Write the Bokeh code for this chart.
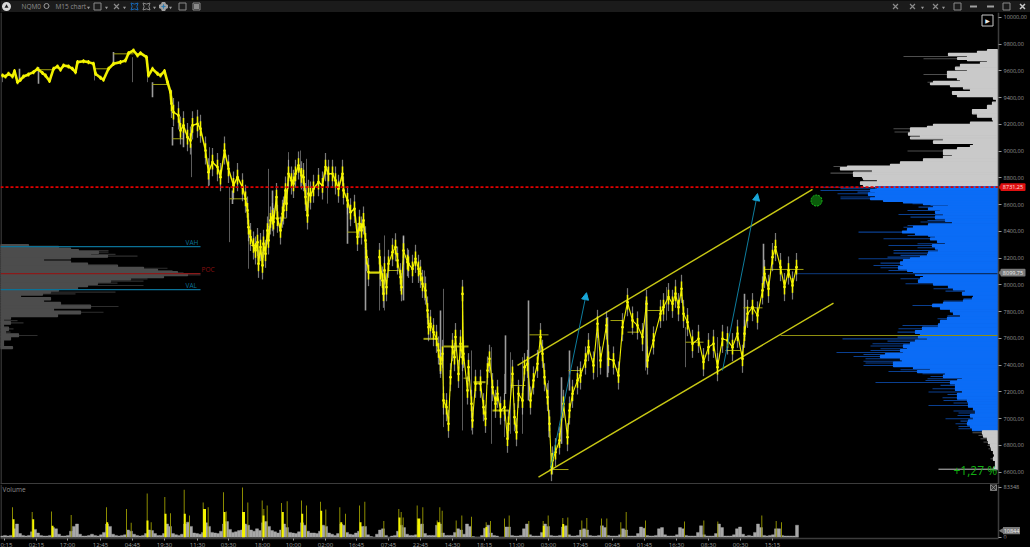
from bokeh.plotting import figure
from bokeh.layouts import column
from bokeh.models import (Range1d, FixedTicker, Arrow, NormalHead, LinearAxis)
from bokeh.core.properties import value
from bokeh.embed import file_html
from bokeh.resources import INLINE
import numpy as np

FONT = "Open Sans"
BG = "#000000"

# --- price path: (bar position, price)
price_x = [2,5,8,12,14,17,20,23,28,33,37,42,45,49,53,57,60,63,68,72,75,77,83,88,93,95,100,103,108,113,120,125,128,133,137,140,146,148,152,157,160,164,167,170,171,173,178,180,183,187,190,192,197,200,
205,208,212,217,220,224,228,233,237,242,245,247,248,250,253,255,257,258,260,262,263,265,267,268,270,272,273,276,277,280,282,283,285,286,288,291,293,295,298,301,303,305,307,308,310,313,318,322,325,328,332,335,338,342,343,347,350,354,357,359,361,363,365,366,368,380,
379,382,383,384,386,388,392,395,397,400,401,403,407,408,412,415,418,420,422,425,427,428,430,433,436,438,440,442,443,446,448,450,452,454,455,458,460,462,462,463,467,468,471,472,475,480,483,485,487,489,492,495,497,500,504,507,508,512,514,516,518,522,524,527,530,533,537,540,542,544,547,549,551,
552,555,559,563,567,569,572,577,580,585,588,593,597,600,606,608,613,618,622,627,632,637,642,646,647,653,660,663,668,672,675,678,681,683,687,692,698,703,708,713,717,722,727,732,737,742,744,747,752,757,762,764,768,772,775,780,784,788,792,796]
price_y = [9566,9559,9579,9559,9599,9516,9534,9559,9574,9591,9616,9584,9566,9524,9616,9634,9609,9641,9634,9616,9591,9666,9673,9666,9654,9579,9549,9534,9616,9654,9666,9678,9733,9753,9716,9733,9703,9566,9616,9579,9566,9599,9516,9442,9354,9292,9267,9155,9193,9105,9080,9193,9205,9168,
9005,8843,8918,8881,8806,9005,8868,8744,8806,8731,8644,8557,8432,8358,8295,8258,8320,8158,8283,8146,8308,8233,8407,8333,8482,8507,8470,8657,8495,8407,8532,8557,8706,8607,8831,8781,8756,8831,8893,8819,8806,8657,8520,8682,8669,8719,8769,8744,8881,8831,8831,8781,8719,8831,8706,8632,8544,8569,8358,8457,8407,8482,8333,8208,8096,8096,
8208,8033,7934,8108,7983,8158,8245,8282,8183,8058,7983,8257,8170,8158,8120,8195,8120,8083,8008,7958,7809,7684,7709,7647,7597,7510,7410,7485,7136,7086,6962,7310,7535,7460,7610,7335,7560,7460,7933,7485,7211,7385,7111,6987,7261,7261,7086,6999,7360,7448,7236,7111,7186,7061,7086,6850,6962,7335,7011,6899,7186,7136,7385,7410,7136,7286,7410,7610,7485,7310,7161,6962,6638,
6688,6750,6837,7111,6862,7061,7186,7286,7323,7435,7535,7398,7709,7435,7697,7448,7435,7323,7684,7871,7734,7697,7610,7859,7435,7585,7784,7834,7909,7859,7934,7834,7971,7784,7722,7560,7597,7423,7535,7560,7385,7597,7585,7535,7635,7448,7635,7784,7834,7772,7959,8083,7971,8208,8283,8133,7984,8108,7996,8133]

# --- session high/low wicks
wick_light_x = [19,38,113,152,172,183,232,272,347,763,365,403,440,505,528,561,569,607,646,744]
wick_light_hi = [9616,9629,9741,9516,9180,9155,8706,8706,8606,8308,8282,8370,7809,7623,7884,7310,7510,7759,7884,7934]
wick_light_lo = [9529,9504,9641,9404,9043,9030,8606,8457,8308,8009,7809,7884,7335,7185,7136,6812,7210,7310,7385,7610]
wick_dim_x = [2,94,132,147,191,209,229,248,268,288,300,306,327,379,384,424,443,462,471,491,504,510,522,548,597,666,685,717,645]
wick_dim_hi = [9579,9616,9703,9616,9055,9030,8731,8432,8868,8993,9005,8943,8881,8233,8370,8108,7971,7983,7510,7535,7335,7497,7460,7286,7759,7984,7684,7610,7884]
wick_dim_lo = [9516,9529,9516,9516,8806,8744,8320,8121,8432,8719,8731,8657,8608,7809,7809,7884,6937,6912,6912,6812,6862,6887,6887,6862,7310,7734,7385,7360,7360]

# --- session POC levels
poc_start = [38,93,113,152,172,229,250,270,347,368,388,423,443,463,473,492,510,529,549,568,610,627,647,685,725,743,763]
poc_end = [53,107,133,167,183,245,255,286,357,380,398,437,468,468,485,508,525,548,568,582,622,638,662,703,740,762,803]
poc_price = [9609,9616,9728,9499,9093,8644,8295,8500,8395,8090,8108,7597,7540,7303,7273,7061,7248,7627,6620,7360,7734,7647,7809,7572,7510,7829,8116]
poc_thick = [1,1,1,1,1,1,1,1,1,2,1,2,2,1,2,2,1,1,1,1,1,1,1,1,1,1,1]

# --- channel, arrows
chan_x0 = [517, 538]
chan_y0 = [7398, 6563]
chan_x1 = [812, 833]
chan_y1 = [8714, 7864]
arrow_x0 = [550, 722]
arrow_y0 = [6628, 7360]
arrow_x1 = [586, 757]
arrow_y1 = [7942, 8683]

last_price = 8731.25
current_price = 8099.75
naked_poc = 7622
target_x, target_y = 816, 8631

# --- right volume profile: price, body length, dark spike length
vp_price = [9753,9741,9723,9708,9691,9683,9671,9658,9641,9616,9604,9591,9574,9559,9541,9529,9516,9504,9492,9474,9459,9434,9417,9399,9379,9354,9330,9292,9267,9242,9225,9210,9192,9180,9168,9143,9130,9110,9100,9085,9068,9050,9035,9018,9001,8981,8968,8956,8931,8911,8893,8886,8869,8851,8836,8819,8806,8794,8781,8761,8741,
8731,8719,8706,8694,8682,8657,8644,8632,8619,8607,8594,8582,8569,8557,8544,8527,8507,8482,8470,8445,8432,8412,8395,8382,8370,8358,8345,8328,8308,8295,8278,8258,8238,8221,8208,8196,8183,8163,8146,8128,8108,8096,8078,8063,8046,8029,8009,7989,7971,7954,7934,7914,7897,7879,7859,7847,7829,7809,7789,7769,7747,7722,7697,7672,7647,7627,7610,7597,7580,7560,7543,7523,
7510,7495,7480,7465,7448,7430,7416,7398,7381,7366,7353,7336,7316,7298,7286,7271,7249,7224,7199,7181,7156,7136,7117,7099,7074,7057,7042,7024,6999,6982,6962,6942,6925,
6895,6875,6850,6825,6800,6775,6750,6725,6700,6675,6650,6625]
vp_body = [10,20,49,30,40,30,10,17,37,42,30,50,50,50,40,37,64,67,47,34,27,45,40,4,1,5,10,25,20,5,4,27,64,70,87,87,89,77,87,54,64,24,27,40,54,54,45,54,74,97,107,150,157,125,144,144,135,134,120,137,134,
122,120,127,122,129,122,127,114,94,74,49,64,69,57,62,54,62,52,45,69,84,90,95,82,69,62,67,60,52,65,62,59,69,70,77,87,94,97,94,99,90,84,82,74,77,79,64,49,44,32,35,24,25,34,54,65,57,47,44,37,50,57,59,75,82,77,79,70,82,87,94,90,
97,94,112,117,97,95,104,104,84,67,80,52,54,35,40,47,42,42,35,40,40,30,29,29,24,22,22,27,24,29,30,27,25,
15,14,10,9,7,6,4,3,4,2,2,4]
vp_spike = [10,20,49,94,74,30,10,17,37,42,30,50,74,50,40,37,70,67,47,34,27,45,40,4,1,5,10,25,20,5,4,27,64,70,104,103,89,77,87,54,64,24,27,40,90,54,45,54,74,97,107,164,157,125,167,144,135,134,120,137,134,
177,157,177,140,160,157,157,114,94,85,67,79,69,90,62,99,87,70,77,90,94,90,139,82,90,62,114,60,80,109,80,104,104,97,110,139,94,117,124,117,109,84,82,74,97,79,92,49,64,52,35,24,34,54,65,85,57,47,44,50,60,57,95,99,100,77,100,155,110,125,127,117,
127,161,134,144,132,134,132,134,84,97,109,75,67,70,72,122,57,65,69,50,55,54,44,69,24,44,39,40,52,37,42,39,39,
25,19,17,14,10,9,4,3,7,2,2,59]

# --- left composite profile
lp_price = [8295,8282,8270,8257,8245,8228,8215,8200,8188,8170,8158,8138,8125,8108,8090,8075,8063,8046,8028,8013,7996,7978,7963,7946,7933,7916,7896,7879,7859,7839,7814,7796,7771,7754,7734,7717,7697,7672,7647,7622,7605,7572,7547,7530]
lp_body = [28,58,70,78,98,90,107,70,43,70,87,117,143,157,177,187,163,130,110,97,87,77,58,50,42,20,50,43,60,90,53,80,57,10,3,10,3,8,5,18,10,3,3,12]
lp_spike = [28,58,70,108,108,115,137,70,43,70,87,117,167,172,183,200,163,147,143,117,143,77,58,115,75,20,50,43,60,118,53,103,57,10,17,23,3,13,10,37,10,3,3,12]
vah, poc, val = 8287, 8085, 7965

# --- volume panel, in thousands of contracts
vol_grey_k = [2,3,2,3,14,22,6,3,2,3,9,13,7,3,2,2,3,16,14,5,2,2,3,10,18,22,5,2,2,3,5,3,2,4,8,22,18,5,3,2,3,4,12,10,5,3,2,3,6,12,11,6,3,3,6,22,18,6,4,3,5,22,25,18,7,6,5,8,24,18,8,7,6,10,22,26,13,8,9,11,12,22,20,12,10,14,11,24,26,18,11,9,7,12,22,16,8,7,6,9,24,20,10,7,7,6,10,20,18,7,5,3,6,22,20,8,5,4,7,10,18,18,4,1,0,5,12,14,3,0,2,3,10,20,16,5,3,3,4,20,22,6,3,3,3,20,22,7,3,3,3,8,14,12,5,22,18,1,0,0,3,15,20,7,3,2,0,0,17,17,3,2,2,3,14,22,4,2,2,2,8,22,18,3,2,2,3,17,19,4,2,2,3,12,14,12,3,2,2,3,19,16,3,2,2,2,4,14,12,2,2,2,6,17,15,3,2,2,3,14,16,4,2,2,2,4,16,14,3,2,2,2,8,19,4,2,2,2,6,22,16,2,2,2,4,14,17,5,2,3,2,8,22,16,3,2,3,4,14,14,3,2,2,2,2,20]
vol_dark_x = [12,31.7,51,70.7,106,126,130.7,146.7,150.7,164.3,170,183.7,189,202.7,207.7,223,225.7,242,247.3,261.7,263.3,266.7,281,286.7,301,306,320,325.3,339.3,345,359,364.3,383.3,398.3,400.7,402.7,416.7,422.3,436.7,439.3,441.7,455.7,461.3,471,485.7,490,504,508.7,528.3,542.7,547.7,562.3,567.3,581.3,586.3,601,606.3,620.3,625.7,645,684,703.3,717.3,761.3,775.7,781]
vol_dark_k = [50,42,43,37,50,47,24,73,25,67,40,79,36,58,50,75,43,83,58,61,47,53,57,60,61,53,59,46,50,39,53,59,27,47,42,33,53,50,28,50,44,28,36,34,25,27,31,36,27,27,36,32,33,28,32,31,31,25,42,28,26,28,26,36,27,25]
vol_bright_x = [13,32.7,52,106.7,147,165,184.3,204,224,243,263,282.3,301.7,320.7,340.7,360,399,418.3,438.3,486,543.3,562.7]
vol_bright_k = [30,30,19,25,28,39,39,47,42,42,36,42,39,44,25,25,33,31,25,17,19,22]
vol_bright_w = [2,2,2,2,2,2,2,3,2,3,2,2,2,2,2,2,2,3,3,2,2,2]
vol_last = 10844

# --- axis ticks
price_ticks = [6600,6800,7000,7200,7400,7600,7800,8000,8200,8400,8600,8800,9000,9200,9400,9600,9800,10000]
vol_ticks = [0, 83348]
time_ticks = [4,36,67,100,132,164,197,228,262,293,325,356,388,420,452,484,516,548,580,612,644,676,708,740,772]
time_labels = ["0:15","02:15","17:00","12:45","04:45","19:30","11:30","03:30","18:00","10:00","02:00","16:45","07:45","22:45","14:30","18:15","11:00","03:00","17:45","09:45","01:45","16:30","08:30","00:30","15:15"]

AX = "#9a9a9a"
EDGE = "#3c3c3c"
W = 1030
AXIS_X = 998

def style(p):
    p.background_fill_color = BG
    p.border_fill_color = BG
    p.grid.visible = False
    p.min_border_left = 0
    p.min_border_top = 0
    p.min_border_bottom = 0
    p.min_border_right = 0

def right_axis(ticks):
    a = LinearAxis(fixed_location=AXIS_X, ticker=FixedTicker(ticks=ticks))
    a.major_label_text_color = AX
    a.major_label_text_font = FONT
    a.major_label_text_font_size = "5.5px"
    a.major_tick_in = 0
    a.major_tick_out = 3
    a.major_tick_line_color = AX
    a.minor_tick_line_color = None
    a.axis_line_color = EDGE
    a.axis_line_width = 1.5
    a.major_label_standoff = 2
    return a

# ---------- toolbar strip
tb = figure(width=W, height=12, x_range=Range1d(0, W), y_range=Range1d(0, 12),
            toolbar_location=None, output_backend="svg", x_axis_type=None, y_axis_type=None,
            outline_line_color=None)
style(tb)
tb.background_fill_color = "#1b1b1b"
tb.border_fill_color = "#1b1b1b"
tb.text([21, 55], [6, 6], text=["NQM0", "M15 chart"], text_font=value(FONT), text_font_size="6.5px",
        text_color="#8e8e8e", text_baseline="middle")
tb.scatter([6], [6], size=9, marker="circle", fill_color="#d8d8d8", line_color=None)
tb.scatter([6], [6], size=4, marker="triangle", fill_color="#1b1b1b", line_color=None)
tb.scatter([46], [6.5], size=5, marker="circle", fill_color=None, line_color="#9a9a9a", line_width=1)
tb.scatter([97, 182, 196], [6, 6, 6], size=7, marker="square", fill_color=None, line_color="#8a8a8a", line_width=1)
tb.scatter([196], [6], size=5, marker="square", fill_color="#8a8a8a", line_color=None)
tb.scatter([163, 973, 990], [6, 6, 6], size=7, marker="dash", line_color="#a0a0a0", line_width=2)
tb.scatter([163], [6], size=7, marker="plus", line_color="#a0a0a0", line_width=2)
tb.scatter([116, 895, 912, 935], [6, 6, 6, 6], size=7, marker="x", line_color="#8a8a8a", line_width=1.2)
tb.scatter([134], [6], size=7, marker="square_pin", fill_color=None, line_color="#1668b8", line_width=1)
tb.scatter([146], [6], size=7, marker="square_pin", fill_color=None, line_color="#8a8a8a", line_width=1)
tb.scatter([957, 1006], [6, 6], size=7, marker="square", fill_color=None, line_color="#8a8a8a", line_width=1)
tb.scatter([1022], [6], size=7, marker="x", line_color="#c8c8c8", line_width=1.5)
tb.scatter([88, 106, 124, 154, 170, 922, 943], [5] * 7, size=3, marker="inverted_triangle",
           fill_color="#9a9a9a", line_color=None)

# ---------- price panel: the frame fills the width, the price axis sits at its fixed place
YMIN, YMAX = 6508, 10037
p = figure(width=W, height=472, x_range=Range1d(0, W), y_range=Range1d(YMIN, YMAX),
           toolbar_location=None, output_backend="svg", x_axis_type=None, y_axis_type=None,
           outline_line_color=None)
style(p)
ax = right_axis(price_ticks)
ax.major_label_overrides = {t: f"{t},00" for t in price_ticks}
p.add_layout(ax, "right")
p.segment([0.5, 0], [YMIN, YMIN], [0.5, AXIS_X], [YMAX, YMIN], line_color=EDGE, line_width=[1.5, 3])

# left composite profile
lp_a = np.array(lp_price, dtype=float)
lmid = (lp_a[:-1] + lp_a[1:]) / 2
lp_top = np.concatenate([[lp_a[0] + 6], lmid])
lp_bot = np.concatenate([lmid, [lp_a[-1] - 6]])
p.hbar(y=lp_a, left=0, right=lp_spike, height=9, fill_color="#2e2e2e", line_color=None)
p.quad(left=0, right=lp_body, bottom=lp_bot, top=lp_top, fill_color="#4c4c4c", line_color="#4c4c4c", line_width=1.2)
p.segment([0, 0, 0], [vah, poc, val], [200, 200, 200], [vah, poc, val],
          line_color=["#0b7196", "#8a1a1a", "#0b7196"], line_width=1.2)
p.text([185, 201, 185], [vah + 27, poc + 27, val + 34], text=["VAH", "POC", "VAL"], text_font=value(FONT),
       text_font_size="6.5px", text_color=["#0b7196", "#8a1010", "#0b7196"], text_baseline="middle")

# right profile
vp_price_a = np.array(vp_price, dtype=float)
mids = (vp_price_a[:-1] + vp_price_a[1:]) / 2
top = np.concatenate([[vp_price_a[0] + 6], mids])
bot = np.concatenate([mids, [vp_price_a[-1] - 6]])
in_va = (vp_price_a <= last_price) & (vp_price_a > 6905)
RX = 997
rb = RX - np.array(vp_body, dtype=float)
rs = RX - np.array(vp_spike, dtype=float)
dark = np.where(in_va, "#0a3f90", "#4e4e4e")
fill = np.where(in_va, "#0b6cf6", "#c9c9c9")
p.hbar(y=vp_price_a, left=rs, right=RX, height=8, fill_color=dark.tolist(), line_color=None)
p.quad(left=rb, right=RX, bottom=bot, top=top, fill_color=fill.tolist(), line_color=fill.tolist(), line_width=1.2)
p.segment([938], [6620], [997], [6620], line_color="#8a8a8a", line_width=1.2)
p.segment([797], [current_price - 15], [997], [current_price - 15], line_color="#0a2f66", line_width=1.2)
p.segment([780], [naked_poc], [997], [naked_poc], line_color="#8f8f10", line_width=1)

# wicks
p.segment(wick_dim_x, wick_dim_lo, wick_dim_x, wick_dim_hi, line_color="#5c5c5c", line_width=1)
p.segment(wick_light_x, wick_light_lo, wick_light_x, wick_light_hi, line_color="#9c9c9c", line_width=1.6)

# session POC
p.segment(poc_start, poc_price, poc_end, poc_price, line_color="#a3a310", line_width=poc_thick)

# channel and projection arrows
p.segment(chan_x0, chan_y0, chan_x1, chan_y1, line_color="#c8c814", line_width=1.4)
for i in range(2):
    p.add_layout(Arrow(end=NormalHead(size=7, fill_color="#18a6d8", line_color="#18a6d8"),
                       x_start=arrow_x0[i], y_start=arrow_y0[i], x_end=arrow_x1[i], y_end=arrow_y1[i],
                       line_color="#0e7d9e", line_width=1))

# price: path with each bar's high-low range
px = np.array(price_x, dtype=float)
py = np.array(price_y, dtype=float)
lw = np.where(px <= 170, 2.6, np.where(px <= 365, 1.5, 1.1))
noisy = px > 170
p.rect(px[noisy], py[noisy], width=1.2, height=210, fill_color="#c8c8c8", fill_alpha=0.6, line_color=None)
p.multi_line([px[i:i + 2].tolist() for i in range(len(px) - 1)],
             [py[i:i + 2].tolist() for i in range(len(px) - 1)],
             line_color="#f0f000", line_width=lw[:-1].tolist())
p.rect(px, py, width=1.5, height=np.where(px <= 170, 30, 110), fill_color="#f6f600", line_color=None)
p.scatter(px, py, size=2.8, marker="circle", fill_color="#f6f600", line_color=None)

# last price line
p.segment([0], [last_price], [AXIS_X], [last_price], line_color="#e00000", line_width=1.6, line_dash="3 2")

# target circle
p.scatter([target_x], [target_y], size=11, marker="circle", fill_color="#0a5c0a",
          line_color="#1cc01c", line_width=1, line_dash="2 1")

p.text([953], [6613], text=["+1,27 %"], text_font=value(FONT), text_font_size="12px",
       text_color="#12b012", text_baseline="middle")

# jump-to-end button
p.scatter([987], [9977], size=11, marker="square", fill_color="#000000", line_color="#c8c8c8", line_width=1)
p.text([987], [9977], text=["▶"], text_font=value("DejaVu Sans"), text_font_size="6px", text_color="#e8e8e8",
       text_align="center", text_baseline="middle")

# price tags on the axis
tag_y = [last_price, current_price - 8]
tag_text = ["8731,25", "8099,75"]
tag_fill = ["#e01010", "#7a7a7a"]
p.rect([1012.5, 1012.5], tag_y, width=25, height=58, fill_color=tag_fill, line_color=None,
       border_radius=1)
p.scatter([999.5, 999.5], tag_y, size=5, marker="triangle", angle=np.pi / 2, fill_color=tag_fill, line_color=None)
p.text([1012.5, 1012.5], tag_y, text=tag_text, text_font=value(FONT), text_font_size="5.5px",
       text_color=["#ffe0e0", "#eeeeee"], text_align="center", text_baseline="middle")

# ---------- volume panel (its time labels run to the window's bottom edge)
VMIN, VMAX = -2167, 87850
v = figure(width=W, height=67, x_range=Range1d(0, W), y_range=Range1d(VMIN, VMAX),
           toolbar_location=None, output_backend="svg", y_axis_type=None, outline_line_color=None)
style(v)
v.segment([0.5], [VMIN], [0.5], [VMAX], line_color=EDGE, line_width=1.5)
v.vbar(x=1.5 + 3 * np.arange(len(vol_grey_k)), width=3, bottom=0, top=np.array(vol_grey_k) * 1000,
       fill_color="#a8a8a8", line_color="#a8a8a8", line_width=0.4)
v.vbar(x=vol_dark_x, width=1, bottom=0, top=np.array(vol_dark_k) * 1000, fill_color="#8c8c00", line_color=None)
v.vbar(x=vol_bright_x, width=vol_bright_w, bottom=0, top=np.array(vol_bright_k) * 1000, fill_color="#f4f400",
       line_color=None)
v.text([2], [79000], text=["Volume"], text_font=value(FONT), text_font_size="6.5px",
       text_color="#8e8e8e", text_baseline="middle")
v.scatter([993], [83000], size=6, marker="square_x", fill_color="#333333", line_color="#9a9a9a", line_width=0.8)

v.add_layout(right_axis(vol_ticks), "right")

v.rect([1011], [vol_last], width=17, height=12000, fill_color="#7a7a7a", line_color=None)
v.scatter([1001], [vol_last], size=5, marker="triangle", angle=np.pi / 2, fill_color="#7a7a7a", line_color=None)
v.text([1011], [vol_last], text=[str(vol_last)], text_font=value(FONT), text_font_size="5.5px",
       text_color="#eeeeee", text_align="center", text_baseline="middle")

xa = v.xaxis[0]
xa.ticker = FixedTicker(ticks=time_ticks)
xa.major_label_overrides = dict(zip(time_ticks, time_labels))
xa.bounds = (0, AXIS_X)
xa.major_label_text_color = AX
xa.major_label_text_font = FONT
xa.major_label_text_font_size = "6px"
xa.major_tick_in = 0
xa.major_tick_out = 2
xa.major_tick_line_color = AX
xa.minor_tick_line_color = None
xa.axis_line_color = EDGE
xa.axis_line_width = 1.5
xa.major_label_standoff = 0

page = column(tb, p, v, spacing=0, margin=0, width=W, height=547,
              styles={"overflow": "hidden", "background-color": "#000000"})
open("out.html", "w").write(file_html(page, INLINE))
